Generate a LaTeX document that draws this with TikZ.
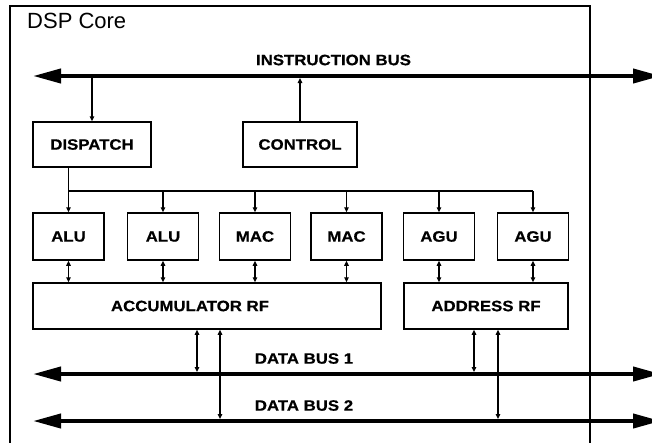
\documentclass[tikz,border=0pt]{standalone}
\usepackage{fontspec}
\setmainfont{Liberation Sans}
\newfontfamily\blockfont[FakeStretch=1.12,FakeBold=0.6]{Liberation Sans}
\usetikzlibrary{arrows.meta,calc}

\tikzset{
  blk/.style={draw, line width=1.5pt, inner sep=0pt,
    font=\blockfont\bfseries\fontsize{15}{17}\selectfont},
  unit/.style={blk, minimum width=71pt, minimum height=47pt},
  lbl/.style={inner sep=0pt, font=\blockfont\bfseries\fontsize{15}{17}\selectfont},
  bus/.style={line width=4pt,
    {Triangle[length=28pt,width=14pt]}-{Triangle[length=28pt,width=14pt]}},
  link/.style={line width=1.5pt, -{Triangle[length=5pt,width=4.5pt]}},
  dlink/.style={line width=1.7pt,
    {Triangle[length=5pt,width=4.5pt]}-{Triangle[length=5pt,width=4.5pt]}},
  wire/.style={line width=1.5pt}
}

\begin{document}
\begin{tikzpicture}[x=1pt,y=-1pt]
\useasboundingbox (0,0) rectangle (652,442);

% core outline, open at the bottom
\draw[line width=1.3pt] (10,450) -- (10,6) -- (590,6) -- (590,450);
\node[anchor=west, inner sep=0pt, font=\fontsize{22}{25}\selectfont] (title) at (27,20.5) {DSP Core};

% bus end points
\coordinate (ibL) at (33,76);   \coordinate (ibR) at (661,76);
\coordinate (d1L) at (33,374);  \coordinate (d1R) at (661,374);
\coordinate (d2L) at (33,421);  \coordinate (d2R) at (661,421);
\coordinate (ctl) at (0,191);

% blocks
\node[blk, minimum width=118pt, minimum height=45pt] (dispatch) at (92,144.5) {DISPATCH};
\node[blk, minimum width=114pt, minimum height=45pt] (control) at (300,144.5) {CONTROL};

\node[unit] (alu1) at (68.5,236.5) {ALU};
\node[unit] (alu2) at (163,236.5) {ALU};
\node[unit] (mac1) at (255,236.5) {MAC};
\node[unit] (mac2) at (346.5,236.5) {MAC};
\node[unit] (agu1) at (439,236.5) {AGU};
\node[unit] (agu2) at (533,236.5) {AGU};

\node[blk, minimum width=348pt, minimum height=46pt,
  label={[lbl, xshift=-17pt]center:ACCUMULATOR RF}] (acc) at (207,306) {};
\node[blk, minimum width=164pt, minimum height=46pt] (addr) at (486,306) {ADDRESS RF};

% buses
\draw[bus] (ibL) -- (ibR);
\draw[bus] (d1L) -- (d1R);
\draw[bus] (d2L) -- (d2R);
\node[lbl] (iblabel) at (333.5,60) {INSTRUCTION BUS};
\node[lbl] (d1label) at (304,358.5) {DATA BUS 1};
\node[lbl] (d2label) at (304,405.5) {DATA BUS 2};

% instruction fetch and control
\draw[link] ($(dispatch.north |- ibL)+(0,2)$) -- (dispatch.north);
\draw[link] (control.north) -- ($(control.north |- ibL)+(0,2)$);

% dispatch fan-out to the functional units
\draw[wire] (dispatch.south -| alu1) -- (alu1 |- ctl) -- (agu2 |- ctl);
\foreach \u in {alu1,alu2,mac1,mac2,agu1,agu2}
  \draw[link] (\u |- ctl) -- (\u.north);

% units to register files
\foreach \u in {alu1,alu2,mac1,mac2}
  \draw[dlink] (\u.south) -- (\u.south |- acc.north);
\foreach \u in {agu1,agu2}
  \draw[dlink] (\u.south) -- (\u.south |- addr.north);

% register files to data buses
\draw[dlink] ([xshift=-10pt]acc.south) -- ($([xshift=-10pt]acc.south |- d1L)+(0,-2)$);
\draw[dlink] ([xshift=13pt]acc.south) -- ($([xshift=13pt]acc.south |- d2L)+(0,-2)$);
\draw[dlink] ([xshift=-12pt]addr.south) -- ($([xshift=-12pt]addr.south |- d1L)+(0,-2)$);
\draw[dlink] ([xshift=12pt]addr.south) -- ($([xshift=12pt]addr.south |- d2L)+(0,-2)$);
\end{tikzpicture}
\end{document}
